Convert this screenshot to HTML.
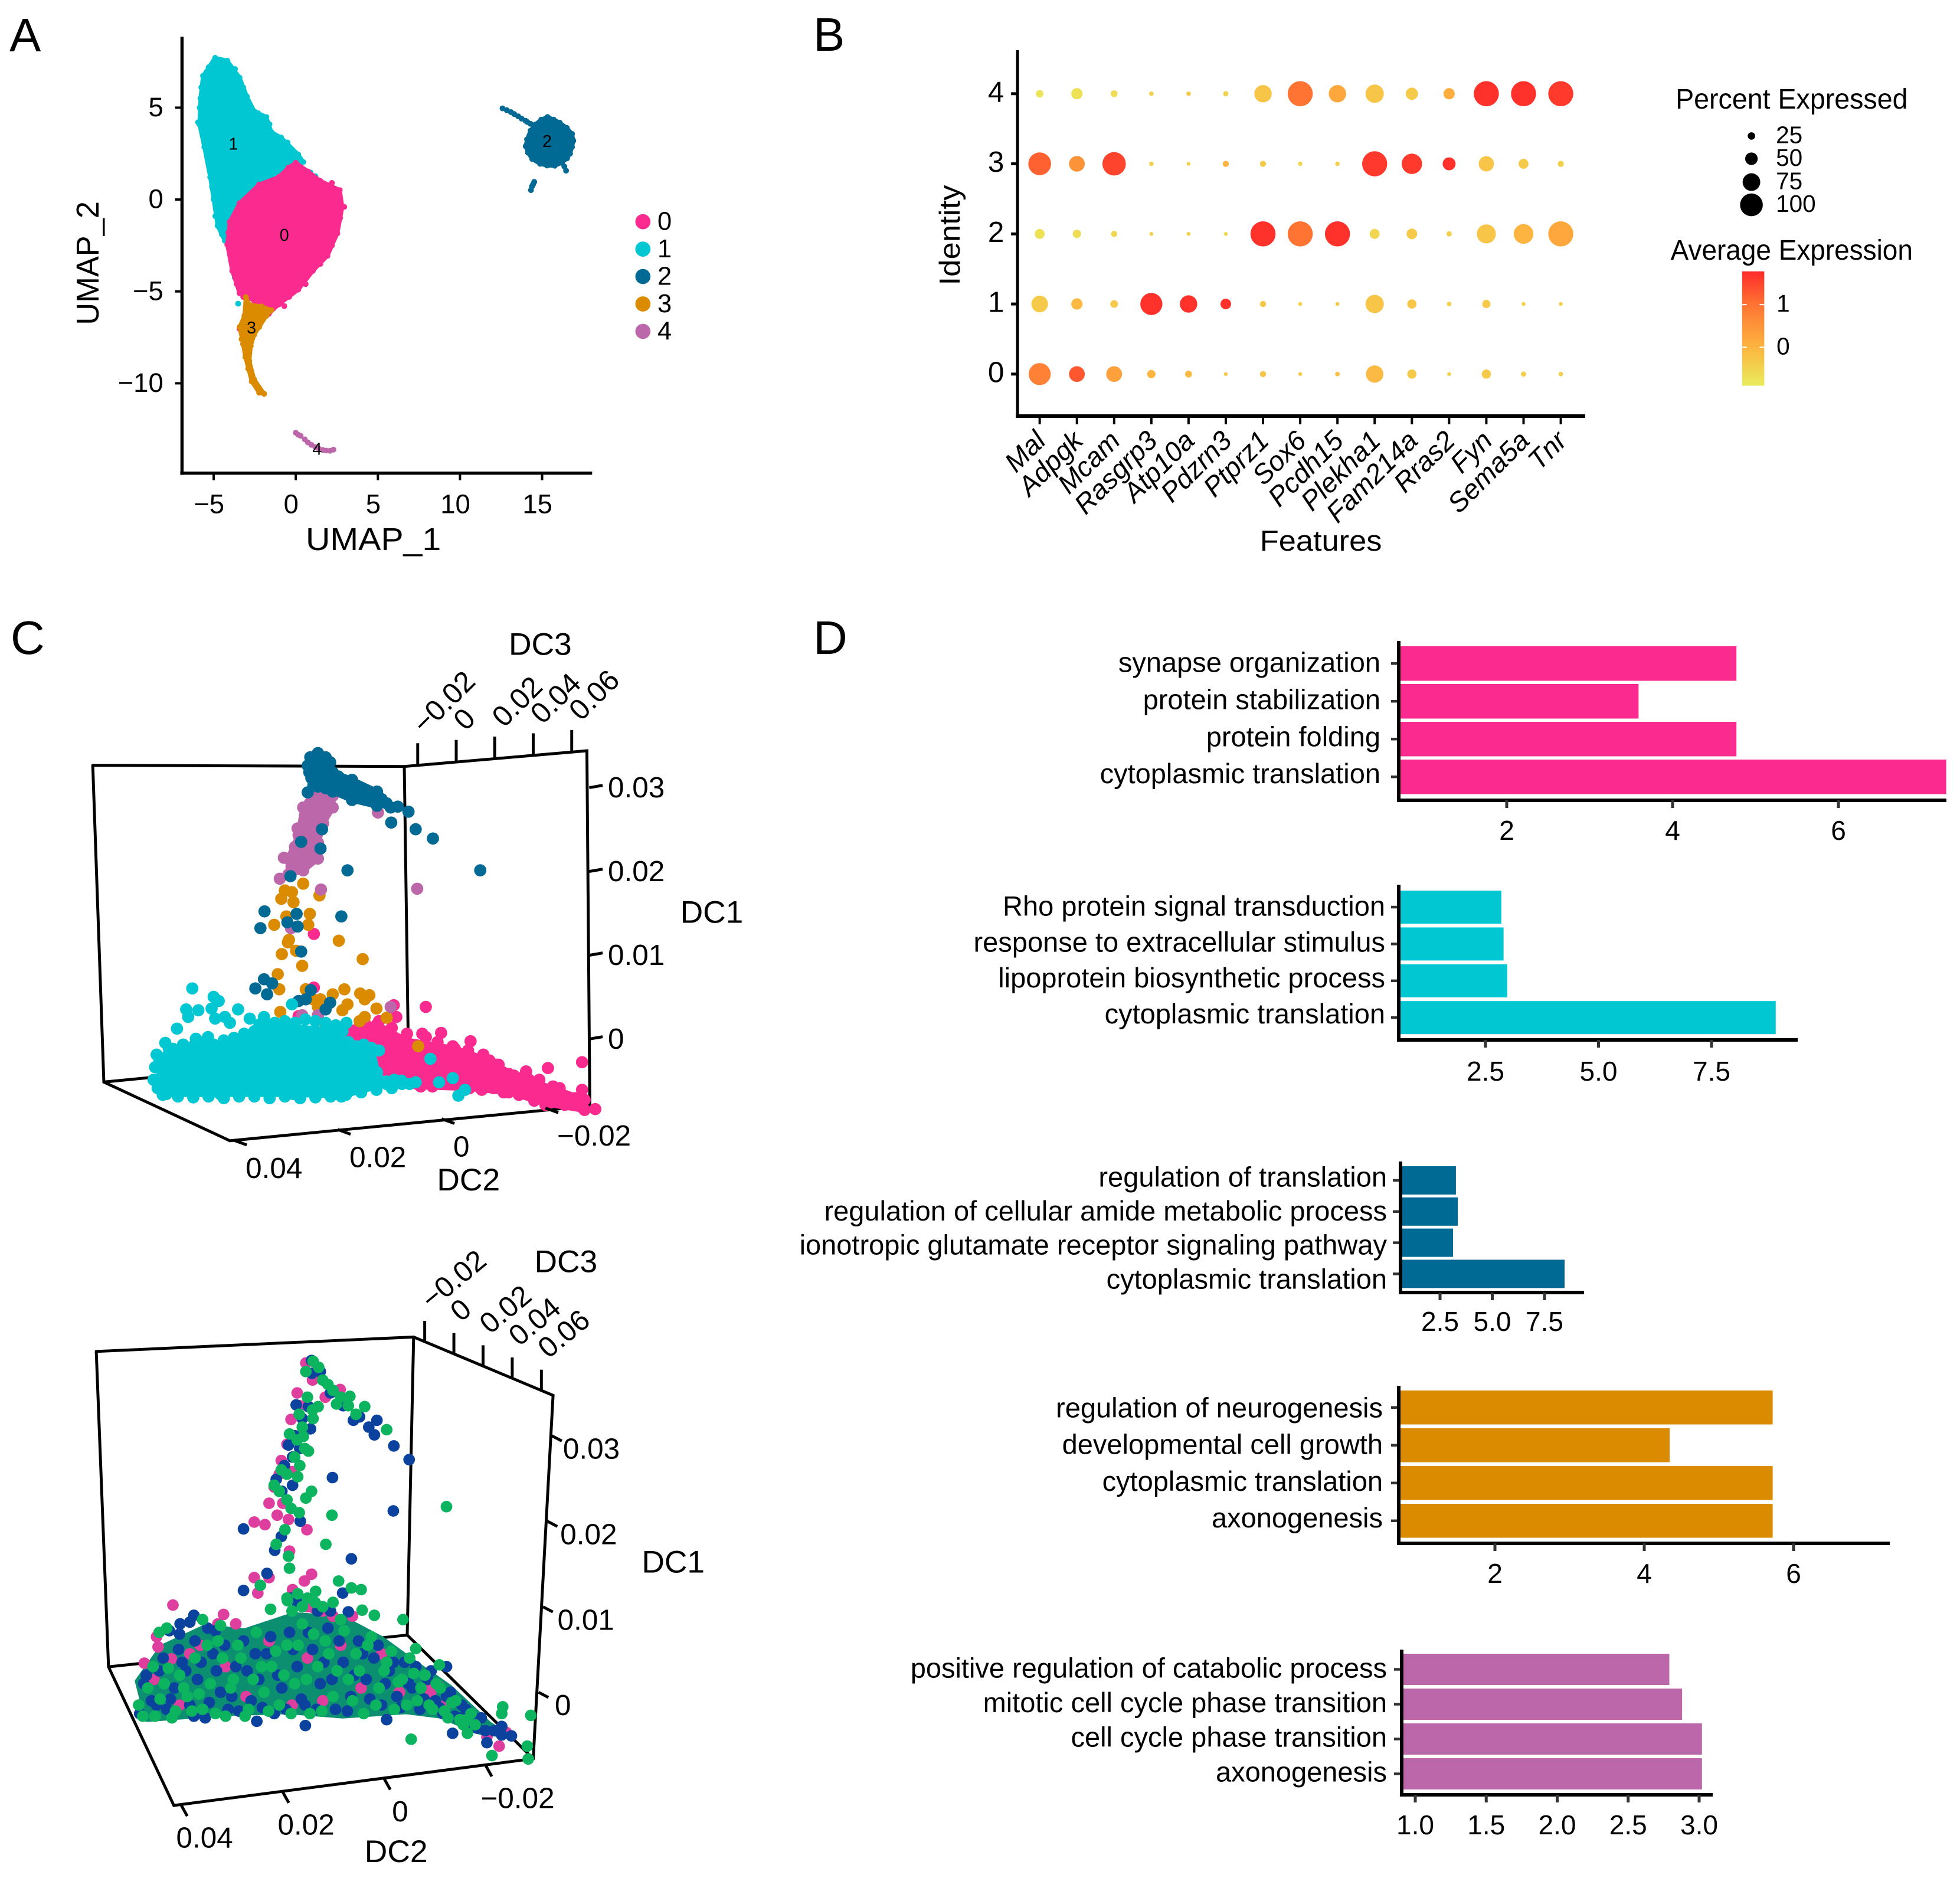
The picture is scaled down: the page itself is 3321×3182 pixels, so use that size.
<!DOCTYPE html>
<html lang="en">
<head>
<meta charset="utf-8">
<title>Single-cell clustering, marker dot plot, diffusion maps and GO enrichment</title>
<style>
html,body{margin:0;padding:0;background:#fff}
svg{display:block}
text{font-family:"Liberation Sans",Arial,sans-serif;fill:#000}
</style>
</head>
<body>
<svg id="fig" xmlns="http://www.w3.org/2000/svg" width="3321" height="3182" viewBox="0 0 3321 3182">
  <defs>
    <linearGradient id="expr" x1="0" y1="0" x2="0" y2="1">
      <stop offset="0" stop-color="#FF2A2A"/>
      <stop offset="0.29" stop-color="#FF7433"/>
      <stop offset="0.66" stop-color="#FDB440"/>
      <stop offset="1" stop-color="#E9EC5C"/>
    </linearGradient>
  </defs>
  <rect x="0" y="0" width="3321" height="3182" fill="#fff"/>

  <text x="16" y="87" font-size="80">A</text>
  <text x="1378" y="86" font-size="80">B</text>
  <text x="18" y="1108" font-size="80">C</text>
  <text x="1378" y="1108" font-size="80">D</text>

  <g id="panelA" transform="scale(.9885)">
    <text x="640" y="925" font-size="54" text-anchor="middle" dominant-baseline="central" textLength="232" lengthAdjust="spacingAndGlyphs">UMAP_1</text>
    <text transform="translate(151,451) rotate(-90)" font-size="54" text-anchor="middle" dominant-baseline="central" textLength="212" lengthAdjust="spacingAndGlyphs">UMAP_2</text>
  </g>

  <g id="panelB" transform="matrix(.9885 0 0 .9888 14.95 0)">
    <text transform="translate(1613,403) rotate(-90)" font-size="50" text-anchor="middle" dominant-baseline="central" textLength="172" lengthAdjust="spacingAndGlyphs">Identity</text>
    <text x="2249" y="927" font-size="50" text-anchor="middle" dominant-baseline="central" textLength="209" lengthAdjust="spacingAndGlyphs">Features</text>
    <text x="3056" y="170" font-size="49" text-anchor="middle" dominant-baseline="central" textLength="398" lengthAdjust="spacingAndGlyphs">Percent Expressed</text>
    <text x="3056" y="429" font-size="49" text-anchor="middle" dominant-baseline="central" textLength="415" lengthAdjust="spacingAndGlyphs">Average Expression</text>
    <rect x="2971" y="465" width="38" height="196" fill="url(#expr)"/>
  </g>

  <g id="panelC" transform="matrix(.9885 0 0 .9847 0 9.7)">
    <g fill="none" stroke="#000" stroke-width="5" stroke-linecap="round">
      <path d="M159 1307L693 1309L1006 1282L1011 1893L394 1953L178 1852L159 1307"/>
      <path d="M693 1309L700 1801"/>
      <path d="M178 1852L700 1801L1011 1893"/>
    </g>
    <text x="926" y="1099" font-size="54" text-anchor="middle" dominant-baseline="central">DC3</text>
    <text x="1220" y="1560" font-size="54" text-anchor="middle" dominant-baseline="central">DC1</text>
    <text x="803" y="2021" font-size="54" text-anchor="middle" dominant-baseline="central">DC2</text>
  </g>

  <g id="panelC2" transform="matrix(.9885 0 0 .9787 0 44.7)">
    <g fill="none" stroke="#000" stroke-width="5" stroke-linecap="round">
      <path d="M165 2294L709 2269L948 2370L914 2999L298 3080L186 2840L165 2294"/>
      <path d="M709 2269L698 2785"/>
      <path d="M186 2840L698 2785L914 2999"/>
    </g>
    <text x="970" y="2139" font-size="54" text-anchor="middle" dominant-baseline="central">DC3</text>
    <text x="1154" y="2659" font-size="54" text-anchor="middle" dominant-baseline="central">DC1</text>
    <text x="679" y="3160" font-size="54" text-anchor="middle" dominant-baseline="central">DC2</text>
  </g>

  <g id="panelD"></g>
</svg>

<script>
/* ---------- Panel A data (UMAP units) ---------- */
const umapXTicks = [-5, 0, 5, 10, 15];
const umapYTicks = [5, 0, -5, -10];
const clusterIds = ['0', '1', '2', '3', '4'];
const cluster1Outline = [[-4.91,7.71],[-4.17,7.55],[-3.42,6.63],[-2.98,5.61],[-2.53,4.8],[-1.79,4.49],[-1.49,3.67],[-.89,3.37],[.15,2.45],[.45,2.04],[-.15,1.84],[-1.04,1.22],[-2.23,.82],[-3.42,-.2],[-4.02,-1.43],[-4.32,-2.24],[-4.76,-1.43],[-5,0],[-5.21,1.22],[-5.57,2.86],[-5.86,4.08],[-5.8,5.51],[-5.65,6.73]];
const cluster0Outline = [[0,2],[.74,1.53],[1.49,1.02],[2.68,.51],[2.83,-.41],[2.53,-1.84],[1.93,-3.06],[1.04,-3.88],[.15,-4.9],[-1.04,-5.71],[-1.64,-6.22],[-2.53,-5.51],[-3.42,-5.1],[-3.87,-3.88],[-4.17,-2.45],[-4.02,-1.22],[-3.42,-.2],[-2.23,.82],[-1.04,1.22],[-.45,1.73]];
const cluster2Outline = [[15.33,4.49],[15.7,4.35],[16.07,4.18],[16.5,3.9],[16.82,3.57],[16.9,3.2],[16.82,2.86],[16.7,2.5],[16.52,2.24],[16.2,2],[15.77,1.84],[15.3,1.85],[14.88,1.94],[14.4,2.2],[14.14,2.55],[14,2.9],[14.08,3.27],[14.3,3.75],[14.58,4.08],[14.95,4.35]];
const cluster3Outline = [[-3.04,-5.31],[-2.83,-5.71],[-2.08,-5.82],[-1.49,-6.02],[-1.79,-6.33],[-2.23,-6.94],[-2.53,-7.35],[-2.74,-7.96],[-2.83,-8.78],[-2.53,-9.8],[-1.93,-10.57],[-2.23,-10.51],[-2.68,-9.9],[-3.07,-8.57],[-3.21,-7.86],[-3.42,-6.94],[-3.13,-6.33]];
const cluster1Extra = [[-3.51,-5.67],[-3.72,-4.24],[.89,1.47],[1.19,1.27],[-5.95,4.2],[-5.85,5],[-5.2,2.4],[-4.9,-.9],[-2.3,4.7],[-1.6,4.1],[-.5,3.1],[-5.5,3.4],[-5.7,4.8],[-5.75,6.1],[-5.3,7.2],[-5.1,.7],[-4.5,-1.9],[-3.2,6.1],[-3.7,7.1]];
const cluster0Extra = [[-3.42,-7.04],[2.95,-.4],[2.2,.9],[-.7,-5.8],[-3.6,-4.6],[.6,-4.6],[2.4,.1],[2.7,-1],[2.2,-2.5],[1.5,-3.5],[-.4,-5.3],[-3.7,-3.2],[-4.1,-1.8],[-3.2,-5.3]];
const cluster2Extra = [[12.59,4.96],[12.85,4.86],[13.1,4.76],[13.3,4.65],[13.54,4.53],[13.75,4.4],[13.99,4.29],[14.1,4.22],[14.29,4.12],[16.22,2.04],[16.35,1.8],[16.46,1.57],[14.52,.96],[14.45,.83],[14.38,.71],[14.32,.51]];
const cluster3Extra = [[-3.3,-7.6],[-3.1,-8.0],[-2.9,-9.2],[-2.3,-10.2]];
const cluster4Points = [[0,-12.69],[.15,-12.8],[.3,-12.86],[.55,-13.05],[.74,-13.22],[.95,-13.35],[1.19,-13.47],[1.4,-13.56],[1.64,-13.63],[1.85,-13.66],[2.08,-13.67],[2.29,-13.61]];

/* ---------- Panel B data ---------- */
const features = ['Mal','Adpgk','Mcam','Rasgrp3','Atp10a','Pdzrn3','Ptprz1','Sox6','Pcdh15','Plekha1','Fam214a','Rras2','Fyn','Sema5a','Tnr'];
const identities = ['0','1','2','3','4'];
const pct0 = [87,60,60,28,22,9,19,9,12,67,32,9,32,15,12];
const pct1 = [64,41,25,87,67,38,19,9,9,71,32,12,28,9,9];
const pct2 = [35,28,19,9,9,9,100,100,100,35,38,15,74,77,100];
const pct3 = [90,60,93,12,9,19,19,12,12,100,80,48,58,35,19];
const pct4 = [25,41,22,12,12,15,67,100,67,71,45,41,100,100,100];
const avg0 = [.8,1.3,.3,0,-.1,-.3,-.3,-.4,-.2,-.1,-.4,-.5,-.4,-.5,-.5];
const avg1 = [-.4,-.1,-.4,1.7,1.7,1.7,-.4,-.5,-.4,-.3,-.3,-.5,-.4,-.5,-.5];
const avg2 = [-.8,-.7,-.6,-.5,-.5,-.6,1.7,1,1.7,-.6,-.4,-.5,-.3,0,.2];
const avg3 = [1.2,.5,1.5,-.5,-.5,0,-.4,-.6,-.5,1.6,1.6,1.7,-.3,-.4,-.5];
const avg4 = [-.9,-.8,-.7,-.5,-.4,-.5,-.3,1,.2,-.3,-.4,.1,1.7,1.7,1.6];
const sizeLegendValues = [25,50,75,100];
const colorLegendTicks = [1,0];

/* ---------- Panel C data: [DC2, DC1] in units of 1e-4, as seen in the projection ---------- */
const dc2Ticks = [0.04, 0.02, 0, -0.02];
const dc1Ticks = [0.03, 0.02, 0.01, 0];
const dc3Ticks = [-0.02, 0, 0.02, 0.04, 0.06];
const upperCyanDense = [[567,-29],[548,-13],[476,-13],[389,1],[370,16],[207,8],[207,-13],[149,-13],[139,-41],[120,-55],[207,-69],[303,-67],[447,-67],[553,-67],[567,-50]];
const upperPinkDense = [[207,11],[139,16],[82,-3],[-14,-13],[-82,-27],[-139,-48],[-207,-60],[-269,-74],[-269,-86],[-197,-79],[-120,-65],[-43,-60],[53,-58],[111,-53],[245,-41],[255,-22]];
const upperBlueDense = [[264,332],[231,329],[226,317],[188,308],[139,294],[120,280],[139,277],[188,284],[226,294],[264,301],[272,317]];
const upperPurpleDense = [[260,296],[226,289],[226,275],[245,256],[255,233],[255,214],[284,200],[313,195],[313,214],[293,242],[284,275]];
const upperCyan = [[502,59],[460,49],[450,44],[514,34],[490,33],[464,35],[510,25],[532,11],[555,-6],[457,23],[438,25],[412,34],[428,18],[389,23],[361,25],[495,-1],[471,1],[306,40],[199,18],[34,-25],[-10,-48],[63,-53],[91,-51],[17,-53],[-34,-62],[-21,-69],[209,-70],
[540,-13],[520,-8],[500,-10],[480,-5],[460,-8],[440,-3],[420,0],[400,5],[380,8],[360,20],[340,18],[320,20],[300,18],[280,22],[260,20],[240,18],[220,15],[195,-5],[180,-10],[165,-8],[150,-12],[135,-15],[185,-25],[160,-30],[140,-45],[120,-52],[105,-50],[90,-55],[75,-55],[560,-68],[530,-70],[500,-71],[470,-70],[440,-72],[410,-70],[380,-70],[350,-72],[320,-70],[290,-72],[260,-71],[230,-70],[200,-68],[170,-65],[140,-62],[110,-60],[575,-35],[578,-50],[570,-60],[572,-20]];
const upperPink = [[263,124],[43,37],[13,6],[-45,-4],[-264,-29],[-197,-36],[-154,-40],[-96,-32],[-120,-43],[-207,-58],[-264,-62],[106,39],[101,25],[43,1],[293,26],[263,60],[-192,-80],[-264,-83],[-67,-62],
[180,-45],[150,-52],[60,-55],[30,-58],[0,-55],[-30,-55],[-60,-58],[-90,-60],[-110,-65],[-140,-68],[-170,-75],[-230,-80],[-250,-72],[-220,-60],[-180,-50],[-160,-50],[-130,-45],[-100,-32],[-70,-20],[-40,-15],[-10,-10],[20,-5],[50,5],[80,5],[110,12],[135,20],[160,15],[-290,-85]];
const upperOrange = [[284,184],[320,176],[306,174],[327,166],[303,162],[252,170],[317,145],[271,148],[341,135],[274,135],[312,117],[314,114],[214,116],[298,104],[326,100],[167,94],[286,86],[334,76],[331,58],[279,58],[203,58],[226,52],[172,53],[154,51],[250,46],[264,46],[197,40],[163,46],[140,35],[255,37],[329,31],[207,33],[163,25],[120,24],[173,20],[240,13],[58,-10]];
const upperBlue = [[98,276],[77,270],[111,257],[63,249],[29,238],[197,200],[-64,200],[275,293],[247,249],[288,234],[250,226],[309,193],[360,151],[368,131],[315,138],[297,148],[295,133],[209,145],[288,103],[378,59],[361,70],[345,65],[355,52],[269,57],[293,44],[231,42],[279,46],[240,34],
[270,335],[255,340],[240,335],[275,325],[268,310],[250,315],[235,310],[215,312],[200,305],[175,298],[160,290],[130,285],[112,275],[255,300],[240,298]];
const upperPurple = [[137,269],[60,178],[249,177],[308,131],[112,37],[286,27],[255,27],
[262,285],[240,280],[275,262],[250,262],[295,250],[265,245],[300,228],[270,222],[322,215],[280,210],[305,200],[330,190]];

const lowerFloorDense = [[483,13],[435,53],[349,77],[273,72],[177,91],[81,87],[5,63],[-62,34],[-129,6],[-206,-37],[-244,-51],[-187,-47],[-110,-28],[-43,-23],[81,-28],[187,-23],[301,-25],[464,-32]];
const lowerBlue = [[142,388],[141,373],[172,336],[148,334],[48,322],[14,318],[19,301],[-19,288],[-49,272],[144,308],[187,289],[179,275],[211,249],[179,242],[101,251],[-18,212],[164,200],[275,191],[201,182],[214,166],[64,156],[229,139],[275,119],[81,116],[182,110],[70,94],[372,90],[399,80],[249,-34],[154,-39],[-5,-32],[-134,-48],[-201,-59],[-249,-51],[-230,-40],[-122,30],
[125,375],[105,350],[80,335],[60,318],[30,310],[160,320],[175,300],[165,285],[195,265],[200,235],[420,72],[400,68],[380,82],[370,60],[345,75],[330,72],[170,105],[130,95],[105,95],
[470,10],[455,-10],[440,25],[425,-20],[410,5],[395,35],[380,-15],[365,15],[350,-30],[335,45],[320,0],[305,-20],[290,30],[275,60],[260,-10],[245,15],[230,45],[215,-25],[200,5],[185,70],[170,30],[155,-15],[140,50],[125,10],[110,75],[95,-20],[80,35],[65,-5],[50,60],[35,15],[20,40],[5,-15],[-10,25],[-25,-5],[-40,35],[-55,5],[-70,-20],[-85,15],[-100,-10],[-115,-25],[-130,0],[-145,-30],[-160,-20],[-175,-35],[-190,-30],
[478,-25],[465,20],[445,-15],[432,40],[418,-8],[402,50],[388,25],[372,-28],[358,35],[342,-12],[328,25],[312,55],[298,-5],[284,-22],[268,25],[252,45],[238,-18],[222,65],[208,20],[192,-20],[178,50],[162,-8],[148,70],[132,-20],[118,35],[102,15],[88,60],[72,-22],[58,20],[42,45],[28,-8],[12,55],[-2,10],[-18,35],[-32,-18],[-48,10],[-62,30],[-78,-8],[-92,25],[-108,-18],[-122,-5],[-138,-28],[-152,-15],[-168,-42],[-182,-42],[-198,-45],[-215,-45],[-230,-50]];
const lowerPink = [[153,385],[129,368],[86,354],[170,350],[182,319],[201,271],[179,258],[225,221],[198,221],[209,207],[187,202],[254,199],[233,196],[151,190],[185,165],[254,134],[225,134],[142,138],[156,130],[247,116],[179,120],[413,102],[314,91],[325,80],[442,53],[469,34],[416,39],[139,99],[100,89],[62,89],[-91,0],[-105,8],[-201,-52],[-225,-63],[-239,-47],
[140,365],[115,345],[165,335],[190,290],[205,255],[215,240],[445,65],[380,45],[290,80],[150,100],[120,95],
[450,15],[400,-15],[360,55],[310,30],[270,-5],[225,60],[180,-15],[150,40],[120,-10],[85,55],[45,5],[5,45],[-30,0],[-90,5],[-120,-15]];
const lowerGreen = [[139,387],[153,375],[120,365],[100,353],[67,346],[38,334],[129,334],[166,325],[139,320],[185,302],[158,299],[148,282],[201,260],[169,252],[215,242],[142,235],[153,227],[182,215],[102,207],[166,210],[-122,217],[194,190],[211,173],[114,173],[187,159],[185,145],[242,125],[89,130],[64,122],[45,120],[134,118],[169,115],[189,107],[222,97],[43,96],[19,90],[-37,85],[-62,51],[-108,32],[-232,-17],[-230,-25],[-287,-27],[-53,-55],[-211,-74],[-280,-63],[-282,-78],[-163,-48],[-5,307],[93,337],
[128,380],[110,360],[85,345],[70,335],[55,325],[150,345],[140,330],[160,310],[170,295],[155,285],[175,275],[190,255],[165,265],[205,235],[190,225],[440,70],[425,75],[355,85],[320,78],[180,95],[150,110],[135,105],[120,100],[160,100],[100,105],[190,110],
[480,-15],[462,5],[448,-28],[430,10],[415,-30],[400,20],[385,-5],[370,40],[355,-20],[340,10],[325,60],[310,-28],[295,15],[280,40],[265,-20],[250,70],[235,0],[220,30],[205,-15],[190,55],[175,10],[160,80],[145,-25],[130,30],[115,60],[100,-5],[85,85],[70,15],[55,45],[40,-25],[25,65],[10,5],[-5,35],[-20,-20],[-35,15],[-50,40],[-65,-10],[-80,20],[-95,-20],[-110,5],[-125,-30],[-140,-10],[-155,-38],[-170,-25],
[472,-28],[452,30],[438,-8],[422,28],[408,-22],[392,5],[376,-22],[362,-2],[346,55],[330,-25],[316,40],[300,5],[286,55],[272,-28],[256,15],[240,30],[226,-22],[212,48],[196,20],[182,-25],[168,55],[152,15],[138,68],[122,-22],[108,45],[92,25],[78,72],[62,-10],[48,25],[32,55],[16,-15],[0,25],[-14,48],[-28,12],[-44,-15],[-58,22],[-72,5],[-88,-15],[-102,10],[-118,-22],[-132,-12],[-148,-32],[-162,-32],[-178,-38]];

/* ---------- Panel D data ---------- */
const termsD1 = ['synapse organization','protein stabilization','protein folding','cytoplasmic translation'];
const valuesD1 = [4.77,3.59,4.77,7.3];
const ticksD1 = ['2','4','6'];
const termsD2 = ['Rho protein signal transduction','response to extracellular stimulus','lipoprotein biosynthetic process','cytoplasmic translation'];
const valuesD2 = [2.85,2.9,2.98,8.92];
const ticksD2 = ['2.5','5.0','7.5'];
const termsD3 = ['regulation of translation','regulation of cellular amide metabolic process','ionotropic glutamate receptor signaling pathway','cytoplasmic translation'];
const valuesD3 = [3.26,3.35,3.12,8.46];
const ticksD3 = ['2.5','5.0','7.5'];
const termsD4 = ['regulation of neurogenesis','developmental cell growth','cytoplasmic translation','axonogenesis'];
const valuesD4 = [5.72,4.34,5.72,5.72];
const ticksD4 = ['2','4','6'];
const termsD5 = ['positive regulation of catabolic process','mitotic cell cycle phase transition','cell cycle phase transition','axonogenesis'];
const valuesD5 = [2.79,2.88,3.02,3.02];
const ticksD5 = ['1.0','1.5','2.0','2.5','3.0'];

/* ---------- helpers ---------- */
const NS = 'http://www.w3.org/2000/svg';
const PINK = '#FB2A8E', CYAN = '#00C7D2', BLUE = '#006994', ORANGE = '#DB8B00', PURPLE = '#BC67A9';
const BATCH_BLUE = '#0B429E', BATCH_GREEN = '#0DB45F', BATCH_PINK = '#DE3E9E';
const MINUS = '\u2212';

function mk(tag, attrs, parent, content) {
  const el = document.createElementNS(NS, tag);
  for (const k in attrs) el.setAttribute(k, attrs[k]);
  if (content !== undefined) el.textContent = content;
  parent.appendChild(el);
  return el;
}
function seg(parent, x1, y1, x2, y2, w, color, name) {
  const el = mk('line', {x1: x1, y1: y1, x2: x2, y2: y2, stroke: color, 'stroke-width': w}, parent);
  
  
  return el;
}
function label(parent, x, y, str, size, anchor, color, name, rot) {
  const a = {x: x, y: y, 'font-size': size, 'text-anchor': anchor, 'dominant-baseline': 'central', fill: color};
  if (rot) a.transform = 'rotate(' + rot + ' ' + x + ' ' + y + ')';
  const el = mk('text', a, parent, str);
  
  
  return el;
}
function fmt(v) { return (v < 0 ? MINUS : '') + Math.abs(v); }
function dots(parent, pts, sx, sy, r, color, name) {
  pts.forEach(function (p) {
    const c = mk('circle', {cx: sx(p[0]).toFixed(1), cy: sy(p[1]).toFixed(1), r: r, fill: color}, parent);
    
    
  });
}
function region(parent, pts, sx, sy, color, sw, name) {
  const d = pts.map(function (p) { return sx(p[0]).toFixed(1) + ',' + sy(p[1]).toFixed(1); }).join(' ');
  const el = mk('polygon', {points: d, fill: color, stroke: color, 'stroke-width': sw, 'stroke-linejoin': 'round'}, parent);
  
  
}

/* ---------- Panel A ---------- */
(function () {
  const g = document.getElementById('panelA');
  const sx = function (v) { return 507 + v * 28.15; };
  const sy = function (v) { return 342 - v * 31.5; };
  const R = 5;
  region(g, cluster1Outline, sx, sy, CYAN, 7, 'cluster-1-cells');
  dots(g, cluster1Outline.concat(cluster1Extra), sx, sy, R, CYAN, 'cluster-1-cell');
  region(g, cluster0Outline, sx, sy, PINK, 7, 'cluster-0-cells');
  dots(g, cluster0Outline.concat(cluster0Extra), sx, sy, R, PINK, 'cluster-0-cell');
  region(g, cluster3Outline, sx, sy, ORANGE, 7, 'cluster-3-cells');
  dots(g, cluster3Outline.concat(cluster3Extra), sx, sy, R, ORANGE, 'cluster-3-cell');
  region(g, cluster2Outline, sx, sy, BLUE, 7, 'cluster-2-cells');
  dots(g, cluster2Outline.concat(cluster2Extra), sx, sy, R, BLUE, 'cluster-2-cell');
  dots(g, cluster4Points, sx, sy, R, PURPLE, 'cluster-4-cell');

  const centers = [[-.7,-1.95],[-3.8,3],[15.3,3.15],[-2.7,-7],[1.3,-13.6]];
  centers.forEach(function (c, i) {
    label(g, sx(c[0]), sy(c[1]), clusterIds[i], 29, 'middle', '#000', 'cluster-label-' + clusterIds[i]);
  });

  seg(g, 312, 63, 312, 814, 5.5, '#000', 'y-axis-line');
  seg(g, 309, 811, 1015, 811, 5.5, '#000', 'x-axis-line');
  umapXTicks.forEach(function (t) {
    seg(g, sx(t), 811, sx(t), 823, 4, '#000', 'x-tick');
    label(g, sx(t) - 8, 864, fmt(t), 46, 'middle', '#000', 'x-tick-label');
  });
  umapYTicks.forEach(function (t) {
    seg(g, 300, sy(t), 312, sy(t), 4, '#000', 'y-tick');
    label(g, 280, sy(t) - 1, fmt(t), 46, 'end', '#000', 'y-tick-label');
  });
  const legendColors = [PINK, CYAN, BLUE, ORANGE, PURPLE];
  clusterIds.forEach(function (id, i) {
    const y = 380 + i * 47;
    const c = mk('circle', {cx: 1102, cy: y, r: 13, fill: legendColors[i]}, g);
    
    
    label(g, 1127, y, id, 44, 'start', '#000', 'legend-label-' + id);
  });
})();

/* ---------- Panel B ---------- */
(function () {
  const g = document.getElementById('panelB');
  const sx = function (i) { return 1767 + i * 63.8; };
  const sy = function (v) { return 641 - v * 120.1; };
  const sr = function (p) { return 1.5 + p * 0.2; };
  const stops = [[-1,[233,236,92]],[0,[253,180,64]],[1,[255,116,51]],[1.77,[255,42,42]]];
  const colour = function (v) {
    const c = Math.max(-1, Math.min(1.77, v));
    for (let i = 0; i < stops.length - 1; i++) {
      if (c <= stops[i + 1][0]) {
        const f = (c - stops[i][0]) / (stops[i + 1][0] - stops[i][0]);
        const a = stops[i][1], b = stops[i + 1][1];
        return 'rgb(' + Math.round(a[0] + (b[0] - a[0]) * f) + ',' + Math.round(a[1] + (b[1] - a[1]) * f) + ',' + Math.round(a[2] + (b[2] - a[2]) * f) + ')';
      }
    }
    return 'rgb(255,42,42)';
  };
  const pct = [pct0, pct1, pct2, pct3, pct4];
  const avg = [avg0, avg1, avg2, avg3, avg4];
  identities.forEach(function (id, row) {
    features.forEach(function (f, col) {
      const c = mk('circle', {cx: sx(col), cy: sy(row), r: sr(pct[row][col]), fill: colour(avg[row][col])}, g);
      
      
    });
    seg(g, 1718, sy(row), 1729, sy(row), 5, '#000', 'y-tick');
    label(g, 1706, sy(row) - 3, id, 50, 'end', '#000', 'y-tick-label');
  });
  seg(g, 1729, 86, 1729, 716, 5, '#000', 'y-axis-line');
  seg(g, 1726, 713, 2702, 713, 6, '#000', 'x-axis-line');
  features.forEach(function (f, i) {
    seg(g, sx(i), 713, sx(i), 727, 4, '#000', 'x-tick');
    const el = mk('text', {x: 0, y: 0, 'font-size': 47, 'font-style': 'italic', 'text-anchor': 'end', transform: 'translate(' + (sx(i) + 13) + ',758) rotate(-45)'}, g, f);
    
    
  });
  const legendYs = [233, 272, 312, 351];
  const legendRs = function (p) { return 2 + p * 0.175; };
  sizeLegendValues.forEach(function (p, i) {
    const c = mk('circle', {cx: 2987, cy: legendYs[i], r: legendRs(p), fill: '#000'}, g);
    
    
    label(g, 3029, legendYs[i] - 2, String(p), 41, 'start', '#000', 'size-legend-label');
  });
  const legendY = function (v) { return 595 - v * 73; };
  colorLegendTicks.forEach(function (t) {
    const y = legendY(t);
    seg(g, 2971, y, 2979, y, 2, '#fff', 'color-legend-tick');
    seg(g, 3001, y, 3009, y, 2, '#fff', 'color-legend-tick');
    label(g, 3030, y - 2, String(t), 41, 'start', '#000', 'color-legend-label');
  });
})();

/* ---------- Panel C, clusters ---------- */
(function () {
  const g = document.getElementById('panelC');
  const sx = function (u) { return 767.4 - 0.8722 * u; };
  const sy = function (w) { return 1776 - 1.4416 * w; };
  const R = 10.5;
  region(g, upperPinkDense, sx, sy, PINK, 10, 'cluster-0-dense-cells');
  dots(g, upperPinkDense.concat(upperPink), sx, sy, R, PINK, 'cluster-0-cell');
  dots(g, upperOrange, sx, sy, R, ORANGE, 'cluster-3-cell');
  region(g, upperPurpleDense, sx, sy, PURPLE, 10, 'cluster-4-dense-cells');
  dots(g, upperPurpleDense.concat(upperPurple), sx, sy, R, PURPLE, 'cluster-4-cell');
  region(g, upperBlueDense, sx, sy, BLUE, 10, 'cluster-2-dense-cells');
  dots(g, upperBlueDense.concat(upperBlue), sx, sy, R, BLUE, 'cluster-2-cell');
  region(g, upperCyanDense, sx, sy, CYAN, 10, 'cluster-1-dense-cells');
  dots(g, upperCyanDense.concat(upperCyan), sx, sy, R, CYAN, 'cluster-1-cell');

  const front = function (x) { return 1953 + (394 - x) * 0.104; };
  dc2Ticks.forEach(function (t) {
    const x = 757 - 0.89 * t * 1e4;
    const y = front(x);
    seg(g, x, y, x + 22, y + 8, 5, '#000', 'dc2-tick');
    label(g, x + 20, y + 48, t === 0 ? '0' : fmt(t), 50, 'start', '#000', 'dc2-tick-label');
  });
  dc1Ticks.forEach(function (t) {
    const y = 1776 - 1.4416 * t * 1e4;
    seg(g, 1010, y + 2, 1033, y - 2, 5, '#000', 'dc1-tick');
    label(g, 1042, y + 2, t === 0 ? '0' : fmt(t), 50, 'start', '#000', 'dc1-tick-label');
  });
  dc3Ticks.forEach(function (t) {
    const x = 782 + t * 3300;
    const y = 1309 - (x - 693) * 27 / 313;
    seg(g, x, y, x, y - 38, 5, '#000', 'dc3-tick');
    const el = mk('text', {'font-size': 50, transform: 'translate(' + (x + (t === -0.02 ? 12 : 16)) + ',' + (y - 52) + ') rotate(-45)'}, g, t === 0 ? '0' : fmt(t));
    
    
  });
})();

/* ---------- Panel C, samples ---------- */
(function () {
  const g = document.getElementById('panelC2');
  const sx = function (u) { return 658.4 - 0.8764 * u; };
  const sy = function (w) { return 2884 - 1.4805 * w; };
  const R = 10;
  region(g, lowerFloorDense, sx, sy, '#0C8F70', 8, 'floor-dense-cells');
  dots(g, lowerPink, sx, sy, R, BATCH_PINK, 'sample-a-cell');
  dots(g, lowerBlue, sx, sy, R, BATCH_BLUE, 'sample-b-cell');
  dots(g, lowerGreen, sx, sy, R, BATCH_GREEN, 'sample-c-cell');

  const front = function (x) { return 3080 - (x - 298) * 81 / 616; };
  dc2Ticks.forEach(function (t) {
    const x = 658 - 0.87 * t * 1e4;
    const y = front(x);
    seg(g, x, y, x + 11, y + 20, 5, '#000', 'dc2-tick');
    label(g, x + (t === 0 ? 14 : -8), y + 58, t === 0 ? '0' : fmt(t), 50, 'start', '#000', 'dc2-tick-label');
  });
  dc1Ticks.forEach(function (t) {
    const y = 2884 - 1.48 * t * 1e4;
    const x = 923 + t * 767;
    seg(g, x, y, x + 17, y + 9, 5, '#000', 'dc1-tick');
    label(g, x + 28 - t * 300, y + 23, t === 0 ? '0' : fmt(t), 50, 'start', '#000', 'dc1-tick-label');
  });
  dc3Ticks.forEach(function (t) {
    const x = 778 + t * 2500;
    const y = 2269 + (x - 709) * 0.4226;
    seg(g, x, y, x, y - 36, 5, '#000', 'dc3-tick');
    const el = mk('text', {'font-size': 50, transform: 'translate(' + (x + 12) + ',' + (y - 54) + ') rotate(-40)'}, g, t === 0 ? '0' : fmt(t));
    
    
  });
})();

/* ---------- Panel D ---------- */
function barChart(terms, values, ticks, o) {
  const root = document.getElementById('panelD');
  const g = mk('g', {}, root);
  
  
  const sx = function (v) { return o.t0 + (v - o.v0) * o.k; };
  terms.forEach(function (term, i) {
    const y = o.start + i * o.step;
    const b = mk('rect', {x: o.base, y: y, width: Math.max(0, sx(values[i]) - o.base), height: o.h, fill: o.color}, g);
    
    
    const cy = y + o.h / 2;
    seg(g, o.axisX - 13, cy, o.axisX, cy, 4.5, '#333', 'y-tick');
    label(g, o.labelX, o.labelStart + i * o.labelStep, term, 47, 'end', '#000', 'term-label');
  });
  seg(g, o.axisX, o.top, o.axisX, o.axisY + 3, 6, '#000', 'y-axis-line');
  seg(g, o.axisX - 3, o.axisY, o.right, o.axisY, 6, '#000', 'x-axis-line');
  ticks.forEach(function (t) {
    const x = sx(parseFloat(t));
    seg(g, x, o.axisY, x, o.axisY + 13, 5, '#333', 'x-tick');
    label(g, x, o.tickY, t, 46, 'middle', '#4D4D4D', 'x-tick-label');
  });
}
barChart(termsD1, valuesD1, ticksD1, {name:'enrichment-cluster-0', color:PINK, t0:2553, v0:2, k:140.5, base:2373, axisX:2370, top:1086, axisY:1356, right:3298, start:1095, step:64, h:58.5, labelX:2339, labelStart:1122, labelStep:62.9, tickY:1407});
barChart(termsD2, valuesD2, ticksD2, {name:'enrichment-cluster-1', color:CYAN, t0:2517, v0:2.5, k:76.6, base:2373, axisX:2370, top:1499, axisY:1762, right:3046, start:1509, step:62.4, h:56, labelX:2347, labelStart:1535, labelStep:60.8, tickY:1815});
barChart(termsD3, valuesD3, ticksD3, {name:'enrichment-cluster-2', color:BLUE, t0:2440, v0:2.5, k:35.4, base:2376, axisX:2373, top:1968, axisY:2190, right:2684, start:1976, step:52.8, h:48, labelX:2350, labelStart:1994, labelStep:57.6, tickY:2239});
barChart(termsD4, valuesD4, ticksD4, {name:'enrichment-cluster-3', color:ORANGE, t0:2533, v0:2, k:126.5, base:2373, axisX:2370, top:2348, axisY:2615, right:3202, start:2356, step:64, h:57.5, labelX:2343, labelStart:2385, labelStep:62.2, tickY:2666});
barChart(termsD5, valuesD5, ticksD5, {name:'enrichment-cluster-4', color:PURPLE, t0:2398, v0:1, k:240.5, base:2378, axisX:2375, top:2795, axisY:3041, right:2902, start:2802, step:59, h:53, labelX:2350, labelStart:2826, labelStep:58.6, tickY:3092});
</script>
</body>
</html>
